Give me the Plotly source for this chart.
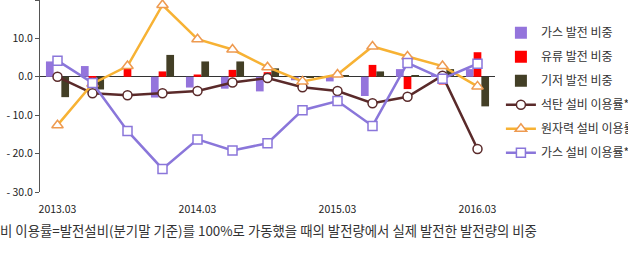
import plotly.graph_objects as go

quarters = ["2013.03", "2013.06", "2013.09", "2013.12", "2014.03", "2014.06", "2014.09",
            "2014.12", "2015.03", "2015.06", "2015.09", "2015.12", "2016.03"]
tick_quarters = ["2013.03", "2014.03", "2015.03", "2016.03"]

gas_share = [4.0, 2.8, 0.0, -5.4, -2.8, -3.1, -3.8, -0.9, -1.2, -5.0, 2.0, 0.3, 2.0]
oil_share = [0.0, -0.4, 2.6, 1.4, 0.6, 1.8, 1.2, 0.0, 0.0, 3.1, -3.2, -2.0, 6.4]
base_share = [-5.3, -3.3, 0.0, 5.7, 4.0, 4.0, 2.2, -0.2, 0.3, 1.4, 0.4, 2.0, -7.7]
coal_util = [0.0, -4.3, -4.8, -4.3, -3.7, -1.5, -0.3, -2.7, -3.7, -6.9, -5.2, 0.3, -18.8]
nuclear_util = [-12.6, -1.8, 2.8, 18.7, 9.8, 7.1, 2.5, -1.2, 0.6, 7.9, 5.3, 2.8, -2.5]
gas_util = [4.2, -1.6, -14.1, -24.0, -16.3, -19.2, -17.3, -8.7, -6.3, -12.8, 3.6, -0.5, 3.4]

y_ticks = [20, 10, 0, -10, -20, -30]
y_ticktext = ["20.0", "10.0", "0.0", "-\u00a010.0", "-\u00a020.0", "-\u00a030.0"]

footnote = "비 이용률=발전설비(분기말 기준)를 100%로 가동했을 때의 발전량에서 실제 발전한 발전량의 비중"

FONT = "Noto Sans CJK KR"

fig = go.Figure()
fig.add_trace(go.Bar(x=quarters, y=gas_share, name="가스 발전 비중", marker_color="#9474DC",
                     legendgroup="a"))
fig.add_trace(go.Bar(x=quarters, y=oil_share, name="유류 발전 비중", marker_color="#FF0000",
                     legendgroup="b"))
fig.add_trace(go.Bar(x=quarters, y=base_share, name="기저 발전 비중", marker_color="#433F26",
                     legendgroup="c"))
fig.add_trace(go.Scatter(x=quarters, y=coal_util, name="석탄 설비 이용률*", mode="lines+markers",
                         line=dict(color="#5A2A2A", width=2.5),
                         marker=dict(symbol="circle", size=9, color="white",
                                     line=dict(color="#5A2A2A", width=1.5)),
                         legendgroup="d"))
fig.add_trace(go.Scatter(x=quarters, y=nuclear_util, name="원자력 설비 이용률*", mode="lines+markers",
                         line=dict(color="#F7B234", width=2.5),
                         marker=dict(symbol="triangle-up", size=10, color="white",
                                     line=dict(color="#EE9A50", width=1.5)),
                         legendgroup="e"))
fig.add_trace(go.Scatter(x=quarters, y=gas_util, name="가스 설비 이용률*", mode="lines+markers",
                         line=dict(color="#8A76DA", width=2.5),
                         marker=dict(symbol="square", size=9, color="white",
                                     line=dict(color="#8A76DA", width=1.5)),
                         legendgroup="f"))

fig.update_layout(
    template="none",
    width=628, height=257,
    margin=dict(l=40, r=133, t=0, b=65, autoexpand=False),
    paper_bgcolor="white", plot_bgcolor="white",
    barmode="group", bargap=0.34, bargroupgap=0,
    font=dict(family=FONT, size=10, color="#222222"),
    showlegend=True,
    legend=dict(x=1.013, y=0.905, xanchor="left", yanchor="top",
                font=dict(family=FONT, size=12, color="#333333"),
                tracegroupgap=5, bgcolor="rgba(0,0,0,0)", borderwidth=0),
    xaxis=dict(type="category", categoryorder="array", categoryarray=quarters,
               range=[-0.5, len(quarters) - 0.5],
               tickmode="array", tickvals=tick_quarters, ticktext=tick_quarters,
               automargin=False,
               showgrid=False, showline=False, ticks="", ticklabelstandoff=9,
               zeroline=False,
               tickfont=dict(family=FONT, size=10.5, color="#222222")),
    yaxis=dict(range=[-30, 20], tickmode="array", tickvals=y_ticks, ticktext=y_ticktext,
               automargin=False,
               showgrid=False, showline=True, linecolor="#555555", linewidth=1,
               ticks="outside", ticklen=4, tickcolor="#555555",
               zeroline=True, zerolinecolor="#333333", zerolinewidth=1,
               tickfont=dict(family=FONT, size=10.5, color="#222222")),
    annotations=[dict(text=footnote, xref="paper", yref="paper", x=-42 / 455, y=-0.135,
                      xanchor="left", yanchor="top", showarrow=False,
                      font=dict(family=FONT, size=13.4, color="#333333"))],
)

fig.write_html("out.html")
